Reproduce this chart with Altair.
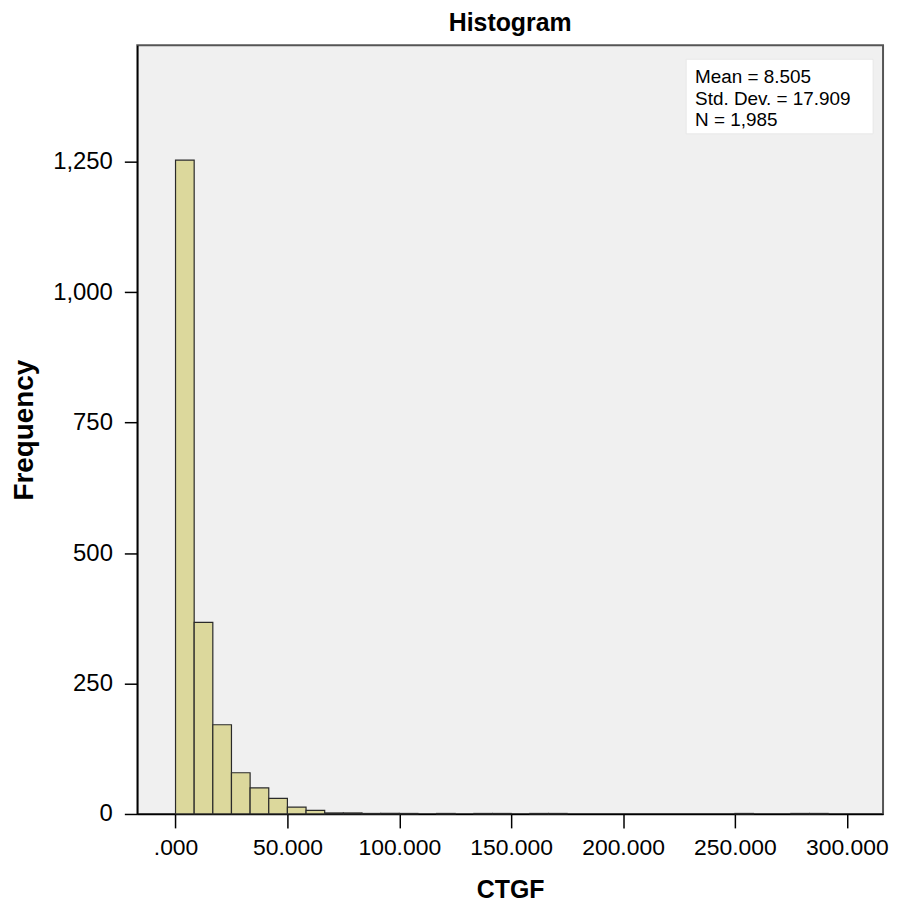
import altair as alt
import pandas as pd

# Histogram of CTGF (SPSS style), bin width = 50/6
bin_index = [0, 1, 2, 3, 4, 5, 6, 7, 8, 9, 10, 11, 12, 14, 16, 17, 19, 20, 30, 33, 34]
counts = [1253, 367, 171, 79, 50, 30, 13, 7, 2, 2, 1, 1, 1, 1, 1, 1, 1, 1, 1, 1, 1]
bin_width = 50 / 6

x_ticks = [0, 50, 100, 150, 200, 250, 300]
y_ticks = [0, 250, 500, 750, 1000, 1250]
stats_lines = ["Mean = 8.505", "Std. Dev. = 17.909", "N = 1,985"]

df = pd.DataFrame({
    "start": [i * bin_width for i in bin_index],
    "end": [(i + 1) * bin_width for i in bin_index],
    "count": counts,
})

FONT = "Liberation Sans"

x_scale = alt.Scale(domain=[-17.1, 316.2], nice=False, zero=False)
y_scale = alt.Scale(domain=[0, 1473], nice=False)

bars = alt.Chart(df).mark_rect(
    fill="#dcd89c", stroke="#2a2a2a", strokeWidth=1.2
).encode(
    x=alt.X("start:Q", scale=x_scale,
            axis=alt.Axis(values=x_ticks, title="CTGF",
                          labelExpr="datum.value == 0 ? '.000' : format(datum.value, '.3f')",
                          titleFontSize=25, titleFontWeight="bold", titlePadding=18,
                          labelFontSize=23, labelPadding=9, tickSize=14,
                          domainColor="black", domainWidth=1.5, tickColor="black", tickWidth=1.5,
                          grid=False, labelColor="black", titleColor="black",
                          labelFont=FONT, titleFont=FONT)),
    x2="end:Q",
    y=alt.Y("count:Q", scale=y_scale,
            axis=alt.Axis(values=y_ticks, title="Frequency", format=",d",
                          titleFontSize=28, titleFontWeight="bold", titlePadding=14,
                          labelFontSize=24, labelPadding=12, tickSize=13,
                          domainColor="black", domainWidth=1.5, tickColor="black", tickWidth=1.5,
                          grid=False, labelColor="black", titleColor="black",
                          labelFont=FONT, titleFont=FONT)),
    y2=alt.datum(0),
)

box = alt.Chart(pd.DataFrame({"a": [0]})).mark_rect(fill="white", stroke="#e8e8e8").encode(
    x=alt.value(552), x2=alt.value(740), y=alt.value(14), y2=alt.value(89)
)

stats_df = pd.DataFrame({"line": stats_lines, "pos": [32, 54, 75]})
stats = alt.Chart(stats_df).mark_text(
    align="left", baseline="middle", fontSize=19, font=FONT, color="black"
).encode(
    x=alt.value(561),
    y=alt.Y("pos:Q", scale=alt.Scale(domain=[0, 773], range=[0, 773]), axis=None),
    text="line:N",
)

chart = alt.layer(bars, box, stats).resolve_scale(y="independent").properties(
    width=750, height=773,
    background="white",
    title=alt.TitleParams("Histogram", fontSize=25, fontWeight="bold", font=FONT,
                          color="black", offset=9, anchor="middle"),
    autosize=alt.AutoSizeParams(type="none"),
    padding={"left": 130, "top": 35, "right": 7, "bottom": 88},
).configure_view(
    fill="#f0f0f0", stroke="#555555", strokeWidth=2
)

chart.save("out.html", embed_options={"renderer": "svg", "actions": False})
